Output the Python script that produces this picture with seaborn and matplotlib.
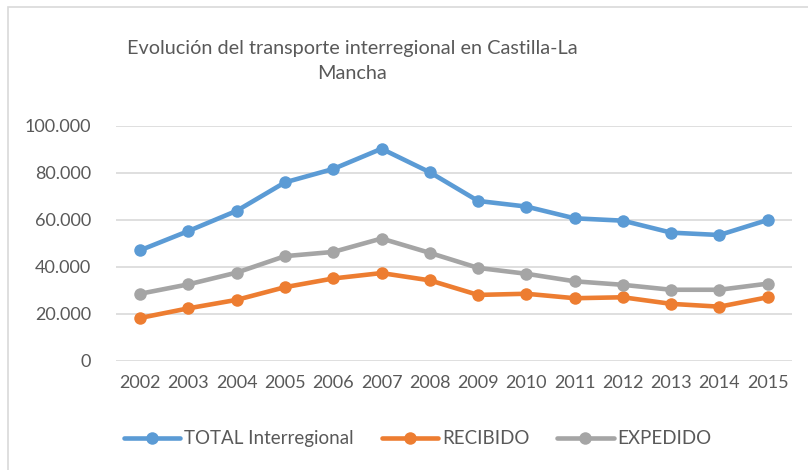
import matplotlib
matplotlib.use("Agg")
import matplotlib.pyplot as plt
import pandas as pd
import seaborn as sns
from matplotlib.ticker import FuncFormatter
from matplotlib.patches import Rectangle

years = ["2002", "2003", "2004", "2005", "2006", "2007", "2008",
         "2009", "2010", "2011", "2012", "2013", "2014", "2015"]
total = [47100, 55300, 63900, 76000, 81700, 90300, 80300,
         68100, 65700, 60700, 59700, 54600, 53600, 60000]
recibido = [18300, 22400, 26000, 31400, 35100, 37400, 34300,
            28100, 28600, 26700, 27100, 24300, 23100, 27100]
expedido = [28600, 32600, 37600, 44600, 46400, 52100, 46000,
            39600, 37100, 33900, 32400, 30300, 30300, 32900]
series_names = ["TOTAL Interregional", "RECIBIDO", "EXPEDIDO"]
colors = {"TOTAL Interregional": "#5B9BD5",
          "RECIBIDO": "#ED7D31",
          "EXPEDIDO": "#A5A5A5"}

df = pd.concat([
    pd.DataFrame({"Año": years, "Valor": total, "Serie": series_names[0]}),
    pd.DataFrame({"Año": years, "Valor": recibido, "Serie": series_names[1]}),
    pd.DataFrame({"Año": years, "Valor": expedido, "Serie": series_names[2]}),
])

sns.set_style("white")
plt.rcParams["font.family"] = ["Lato", "DejaVu Sans"]
text_color = "#595959"

fig = plt.figure(figsize=(8.08, 4.7), dpi=100)
ax = fig.add_axes([0.1436, 0.232, 0.8364, 0.50])

sns.lineplot(data=df, x="Año", y="Valor", hue="Serie", hue_order=series_names,
             palette=colors, marker="o", markersize=9, markeredgewidth=0,
             linewidth=3.3, ax=ax, legend=True)

ax.set_ylim(0, 100000)
ax.set_xlim(-0.5, 13.5)
ax.set_yticks([0, 20000, 40000, 60000, 80000, 100000])
ax.yaxis.set_major_formatter(FuncFormatter(lambda v, p: f"{int(v):,}".replace(",", ".")))
ax.grid(axis="y", color="#D9D9D9", linewidth=1.2)
ax.set_axisbelow(True)
for s in ax.spines.values():
    s.set_visible(False)
ax.tick_params(axis="both", length=0, labelsize=13, colors=text_color)
ax.tick_params(axis="y", pad=18)
ax.tick_params(axis="x", pad=10)
ax.set_xlabel("")
ax.set_ylabel("")

fig.text(0.436, 0.87, "Evolución del transporte interregional en Castilla-La\nMancha",
         ha="center", va="center", fontsize=14.3, color=text_color, linespacing=1.6)

handles, labels = ax.get_legend_handles_labels()
ax.legend(handles, labels, loc="center", bbox_to_anchor=(0.517, 0.066),
          bbox_transform=fig.transFigure, ncol=3, frameon=False,
          fontsize=13.5, labelcolor=text_color, handlelength=3.0,
          handletextpad=0.2, columnspacing=1.5)

fig.patches.append(Rectangle((0.0099, -0.05), 1.2, 1.035, transform=fig.transFigure,
                             fill=False, edgecolor="#D9D9D9", linewidth=1.2))

plt.savefig("out.png", dpi=100)
